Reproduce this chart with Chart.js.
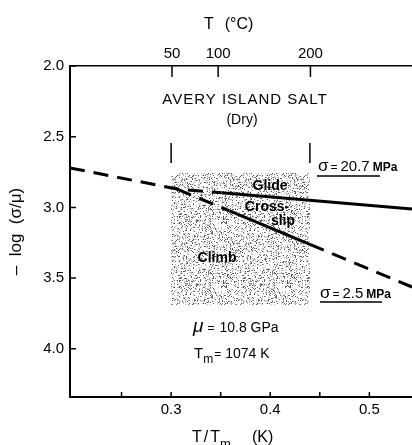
<!DOCTYPE html>
<html>
<head>
<meta charset="utf-8">
<title>Avery Island Salt</title>
<script src="https://cdn.jsdelivr.net/npm/chart.js@4.4.1/dist/chart.umd.min.js"></script>
<style>
html,body{margin:0;padding:0;background:#fff}
canvas{display:block}
</style>
</head>
<body>
<canvas id="chart" width="412" height="445"></canvas>
<script>

// ==============================
// Data
// ==============================

// T/Tm axis
const xRange = [0.198, 0.543]
const xTicks = [0.3, 0.4, 0.5]
const xMinorTicks = [0.25, 0.35, 0.45]

// -log(sigma/mu) axis, drawn downwards
const yRange = [2.0, 4.341]
const yTicks = [2.0, 2.5, 3.0, 3.5, 4.0]

// top axis in deg C (Tm = 1074 K)
const meltingK = 1074
const tempTicks = [50, 100, 200]

// sigma = 20.7 MPa boundary (glide / cross-slip)
const glideX = [0.198, 0.306, 0.351, 0.543]
const glideY = [2.721, 2.870, 2.897, 3.011]
const glideDashed = [true, true, false]

// sigma = 2.5 MPa boundary (cross-slip / climb)
const climbX = [0.306, 0.359, 0.440, 0.543]
const climbY = [2.870, 3.025, 3.262, 3.563]
const climbDashed = [true, false, true]

// tested window, 50 to 200 C
const windowX = [0.3, 0.44]
const windowY = [2.757, 3.69]

// short bars over the window edges
const markY = [2.545, 2.686]


const FONT = "'Liberation Sans', Arial, sans-serif"
const DASH = [15, 9]


function toPoints(xs, ys){
return xs.map((x,i)=>({x:x, y:ys[i]}))
}

function celsiusToRatio(t){
return (t+273.15)/meltingK
}


// stipple texture for the window

function stipple(){

const c = document.createElement("canvas")
c.width = 64
c.height = 64
const g = c.getContext("2d")

for(let i=0;i<64*64;i++){
let h = Math.imul(i+101, 374761393)
h = Math.imul(h ^ (h>>>13), 1274126177)
h = (h ^ (h>>>16))>>>0
const k = h % 1000
if(k < 120){
g.fillStyle = "#5a5a5a"
g.fillRect(i%64, Math.floor(i/64), 1, 1)
}else if(k < 260){
g.fillStyle = "#b4b4b4"
g.fillRect(i%64, Math.floor(i/64), 1, 1)
}
}

return g.createPattern(c, "repeat")

}


// text written on the chart

function write(ctx, x, y, parts){
for(const [text, font, dy, gap] of parts){
ctx.font = font
ctx.fillText(text, x, y+(dy||0))
x += ctx.measureText(text).width + (gap||0)
}
}

const notes = {

id:"notes",

afterDraw(chart){

const ctx = chart.ctx
const xs = chart.scales.x
const xt = chart.scales.xt
const ys = chart.scales.y
const area = chart.chartArea

ctx.save()
ctx.strokeStyle = "#000"
ctx.fillStyle = "#000"
ctx.lineWidth = 1.5

// inward tick marks
ctx.beginPath()
yTicks.forEach(v=>{
const p = ys.getPixelForValue(v)
ctx.moveTo(area.left, p)
ctx.lineTo(area.left+6, p)
})
xTicks.concat(xMinorTicks).forEach(v=>{
const p = xs.getPixelForValue(v)
ctx.moveTo(p, area.bottom)
ctx.lineTo(p, area.bottom-5)
})
tempTicks.forEach(t=>{
const p = xt.getPixelForValue(celsiusToRatio(t))
ctx.moveTo(p, area.top)
ctx.lineTo(p, area.top+11)
})
ctx.stroke()

// underlines of the stress labels
ctx.beginPath()
ctx.moveTo(317, 176)
ctx.lineTo(380, 176)
ctx.moveTo(320, 302)
ctx.lineTo(382, 302)
ctx.stroke()

ctx.textBaseline = "alphabetic"

// axis titles
ctx.textAlign = "left"
write(ctx, 204, 29, [["T", "16px "+FONT, 0, 11], ["(°C)", "16px "+FONT]])
write(ctx, 192, 442, [["T", "16px "+FONT, 0, 2], ["/", "16px "+FONT, 0, 2], ["T", "16px "+FONT, 0, 0], ["m", "13px "+FONT, 6, 0]])
write(ctx, 252, 442, [["(K)", "16px "+FONT]])

// labels
ctx.textAlign = "center"
ctx.save()
ctx.letterSpacing = "1px"
ctx.font = "15px "+FONT
ctx.fillText("AVERY ISLAND SALT", 245, 104)
ctx.restore()
ctx.font = "14px "+FONT
ctx.fillText("(Dry)", 242, 124)

ctx.font = "bold 14px "+FONT
ctx.fillText("Glide", 270, 190)
ctx.fillText("Cross-", 267, 211)
ctx.fillText("slip", 283, 225)
ctx.fillText("Climb", 217, 262)

ctx.textAlign = "left"
write(ctx, 318, 171, [["σ", "17px "+FONT, 0, 2], ["=", "12px "+FONT, 0, 3], ["20.7", "15px "+FONT, 0, 3], ["MPa", "bold 12px "+FONT]])
write(ctx, 320, 298, [["σ", "17px "+FONT, 0, 2], ["=", "12px "+FONT, 0, 3], ["2.5", "15px "+FONT, 0, 3], ["MPa", "bold 12px "+FONT]])

write(ctx, 193, 332, [["μ", "italic 19px "+FONT, 0, 4], ["=", "12px "+FONT, 0, 5], ["10.8 GPa", "14px "+FONT]])
write(ctx, 194, 358, [["T", "15px "+FONT, 0, 0], ["m", "12px "+FONT, 5, 1], ["=", "12px "+FONT, 0, 4], ["1074 K", "14px "+FONT]])

ctx.restore()

}

}


// Chart

const ctx = document.getElementById("chart")

const chart = new Chart(ctx,{

type:"scatter",

data:{

datasets:[

{
data:toPoints(glideX, glideY),
showLine:true,
borderColor:"#000",
borderWidth:3,
borderDash:[],
pointRadius:0,
segment:{
borderDash:c=>glideDashed[c.p0DataIndex] ? DASH : undefined
}
},

{
data:toPoints(climbX, climbY),
showLine:true,
borderColor:"#000",
borderWidth:3,
borderDash:[],
pointRadius:0,
segment:{
borderDash:c=>climbDashed[c.p0DataIndex] ? DASH : undefined
}
},

{
data:toPoints([windowX[0], windowX[0]], markY),
showLine:true,
borderColor:"#000",
borderWidth:1.5,
pointRadius:0
},

{
data:toPoints([windowX[1], windowX[1]], markY),
showLine:true,
borderColor:"#000",
borderWidth:1.5,
pointRadius:0
},

{
data:toPoints(
[windowX[0], windowX[1], windowX[1], windowX[0], windowX[0]],
[windowY[0], windowY[0], windowY[1], windowY[1], windowY[0]]
),
showLine:true,
borderColor:"rgba(0,0,0,0)",
borderWidth:1,
pointRadius:0,
fill:"shape",
backgroundColor:stipple()
}

]

},

options:{

responsive:false,
animation:false,
devicePixelRatio:1,
layout:{padding:0},

plugins:{
legend:{display:false},
tooltip:{enabled:false}
},

scales:{

x:{
type:"linear",
position:"bottom",
min:xRange[0],
max:xRange[1],
afterBuildTicks:s=>{ s.ticks = xTicks.map(v=>({value:v})) },
afterFit:s=>{ s.height = 48 },
grid:{display:false, drawTicks:false},
border:{display:true, color:"#000", width:2},
ticks:{
padding:4,
color:"#000",
font:{family:FONT, size:15},
callback:v=>v.toFixed(1)
}
},

xt:{
type:"linear",
position:"top",
min:xRange[0],
max:xRange[1],
afterBuildTicks:s=>{ s.ticks = tempTicks.map(t=>({value:celsiusToRatio(t)})) },
afterFit:s=>{ s.height = 66 },
grid:{display:false, drawTicks:false},
border:{display:true, color:"#000", width:1.5},
ticks:{
padding:3,
color:"#000",
font:{family:FONT, size:15},
callback:(v,i)=>String(tempTicks[i])
}
},

y:{
type:"linear",
position:"left",
reverse:true,
min:yRange[0],
max:yRange[1],
afterBuildTicks:s=>{ s.ticks = yTicks.map(v=>({value:v})) },
afterFit:s=>{ s.width = 70 },
grid:{display:false, drawTicks:false},
border:{display:true, color:"#000", width:2},
ticks:{
padding:6,
color:"#000",
font:{family:FONT, size:15},
callback:v=>v.toFixed(1)
},
title:{
display:true,
text:"–  log  (σ/μ)",
color:"#000",
font:{family:FONT, size:17},
padding:{top:6, bottom:0}
}
}

}

},

plugins:[notes]

})

</script>
</body>
</html>
